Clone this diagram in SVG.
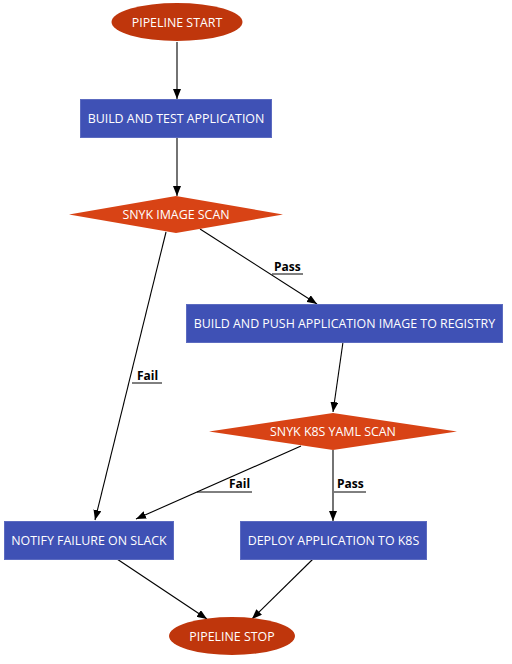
<svg xmlns="http://www.w3.org/2000/svg" width="512" height="664" viewBox="0 0 512 664">
<style>
.term{fill:#bf360c}
.dec{fill:#d84315}
.box{fill:#3f51b5;stroke:#5c6bc0;stroke-width:1}
.nt{font-family:"Open Sans","Noto Sans",sans-serif;font-size:12.4px;fill:#ffffff;text-anchor:middle}
.lbl{font-family:"Open Sans","Noto Sans",sans-serif;font-size:12px;font-weight:bold;fill:#000000}
.e{stroke:#000;stroke-width:1.1;fill:none}
.ul{stroke:#000;stroke-width:1;fill:none}
</style>
<defs>
<marker id="ah" markerWidth="11" markerHeight="8" refX="10" refY="4" orient="auto" markerUnits="userSpaceOnUse">
<path d="M0,0 L10,4 L0,8 Z" fill="#000"/>
</marker>
</defs>
<rect width="512" height="664" fill="#ffffff"/>
<g id="connectors">
<line class="e" x1="177" y1="42" x2="177" y2="99" marker-end="url(#ah)"/>
<line class="e" x1="177" y1="137" x2="177" y2="196" marker-end="url(#ah)"/>
<line class="e" x1="200" y1="229" x2="317" y2="304" marker-end="url(#ah)"/>
<polyline class="ul" points="272,274 303,274"/>
<text class="lbl" x="274" y="271">Pass</text>
<line class="e" x1="166" y1="232" x2="95" y2="520" marker-end="url(#ah)"/>
<polyline class="ul" points="132,383 162,383"/>
<text class="lbl" x="137" y="380">Fail</text>
<line class="e" x1="343" y1="342" x2="333" y2="412" marker-end="url(#ah)"/>
<line class="e" x1="301" y1="446" x2="136" y2="519" marker-end="url(#ah)"/>
<polyline class="ul" points="197,492 252,492"/>
<text class="lbl" x="229" y="488">Fail</text>
<line class="e" x1="333" y1="450" x2="333" y2="521" marker-end="url(#ah)"/>
<polyline class="ul" points="334,492 366,492"/>
<text class="lbl" x="337" y="488">Pass</text>
<line class="e" x1="117" y1="559" x2="207" y2="619" marker-end="url(#ah)"/>
<line class="e" x1="313" y1="559" x2="252" y2="619" marker-end="url(#ah)"/>
</g>
<g id="start">
<ellipse class="term" cx="177" cy="22" rx="65.5" ry="19"/>
<text class="nt" x="177" y="26.5">PIPELINE START</text>
</g>
<g id="build_test">
<rect class="box" x="80.5" y="99.5" width="191" height="38"/>
<text class="nt" x="176" y="122.5">BUILD AND TEST APPLICATION</text>
</g>
<g id="image_scan">
<polygon class="dec" points="69,214.5 176,196 283,214.5 176,233"/>
<text class="nt" x="176" y="219">SNYK IMAGE SCAN</text>
</g>
<g id="build_push">
<rect class="box" x="186.5" y="304.5" width="316" height="38"/>
<text class="nt" x="344.5" y="327.5">BUILD AND PUSH APPLICATION IMAGE TO REGISTRY</text>
</g>
<g id="k8s_scan">
<polygon class="dec" points="209,431.5 333,413 457,431.5 333,450"/>
<text class="nt" x="333" y="436">SNYK K8S YAML SCAN</text>
</g>
<g id="notify">
<rect class="box" x="4.5" y="521.5" width="169" height="38"/>
<text class="nt" x="89" y="544.5">NOTIFY FAILURE ON SLACK</text>
</g>
<g id="deploy">
<rect class="box" x="240.5" y="521.5" width="186" height="38"/>
<text class="nt" x="333.5" y="544.5">DEPLOY APPLICATION TO K8S</text>
</g>
<g id="stop">
<ellipse class="term" cx="232" cy="636" rx="63" ry="19"/>
<text class="nt" x="232" y="640.5">PIPELINE STOP</text>
</g>
</svg>
